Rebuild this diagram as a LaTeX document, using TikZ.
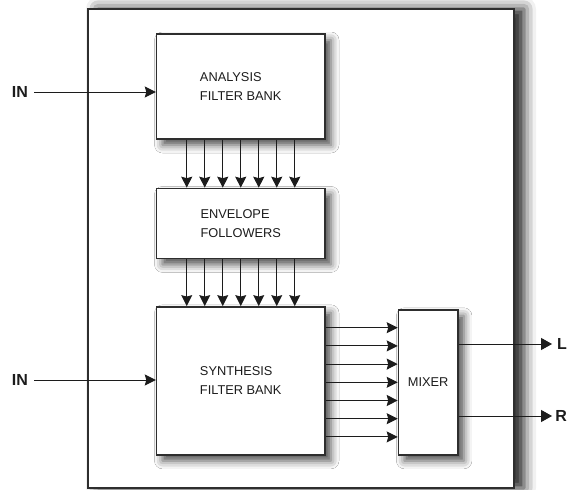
\documentclass[tikz,border=0pt]{standalone}
\usepackage{fontspec}
\setmainfont{Liberation Sans}
\usepackage{tikz}
\usetikzlibrary{positioning,arrows.meta,shadows.blur}
\usepackage{xcolor}
\definecolor{ink}{HTML}{1C1C1C}
\definecolor{edge}{HTML}{2E2E2E}
\newcommand{\blocktext}{\fontsize{12.8}{19}\selectfont}
\newcommand{\portlab}{\fontsize{16}{18}\selectfont\bfseries}

\begin{document}
\begin{tikzpicture}[x=1pt, y=-1pt,
  every node/.style={inner sep=0pt, text=ink},
  block/.style={draw=edge, line width=1.4pt, fill=white, font=\blocktext, align=left,
    minimum width=168.5pt,
    blur shadow={shadow xshift=6pt, shadow yshift=-6pt, shadow blur radius=8pt, shadow opacity=70}},
  port/.style={font=\portlab},
  sig/.style={draw=ink, line width=1pt, -{Stealth[length=11pt, width=11pt, inset=1.5pt]}},
  outsig/.style={draw=ink, line width=1pt, -{Triangle[length=11pt, width=12pt]}}]
\useasboundingbox (0,0) rectangle (568,490);
% 1. outer frame with its shadow on the right
\node[draw=edge, line width=1.2pt, fill=white, minimum width=426pt, minimum height=479pt,
  blur shadow={shadow xshift=10pt, shadow yshift=0pt, shadow blur radius=12pt, shadow opacity=90}]
  (frame) at (301,248.5) {};
% 2. the three stacked blocks
\node[block, minimum height=105pt] (analysis) at (240.75,86.5) {ANALYSIS\\FILTER BANK};
\node[block, minimum height=70pt, below=48pt of analysis] (envelope) {ENVELOPE\\FOLLOWERS};
\node[block, minimum height=148pt, below=47pt of envelope] (synthesis) {SYNTHESIS\\FILTER BANK};
% 3. the mixer
\node[block, minimum width=59.5pt, minimum height=145pt, right=72pt of synthesis, yshift=-1.5pt] (mixer) {MIXER};
% 4. inputs and outputs
\node[port] (inA) at (20,92) {IN};
\node[port] (inS) at (20,380) {IN};
\node[port, anchor=east] (outL) at (567,344) {L};
\node[port, anchor=east] (outR) at (567,416) {R};
\draw[sig] ([xshift=6pt]inA.east) -- (inA -| analysis.west);
\draw[sig] ([xshift=6pt]inS.east) -- (inS -| synthesis.west);
\draw[outsig] (outL -| mixer.east) -- ([xshift=-3pt]outR.west |- outL);
\draw[outsig] (outR -| mixer.east) -- ([xshift=-3pt]outR.west);
% 5. seven bands from block to block
\foreach \i in {-3,...,3} {
  \draw[sig] ([xshift=\i*18pt]analysis.south) -- ([xshift=\i*18pt]envelope.north);
  \draw[sig] ([xshift=\i*18pt]envelope.south) -- ([xshift=\i*18pt]synthesis.north);
  \draw[sig] ([yshift=-\i*18.2pt]mixer.west -| synthesis.east) -- ([yshift=-\i*18.2pt]mixer.west);
}
\end{tikzpicture}
\end{document}
